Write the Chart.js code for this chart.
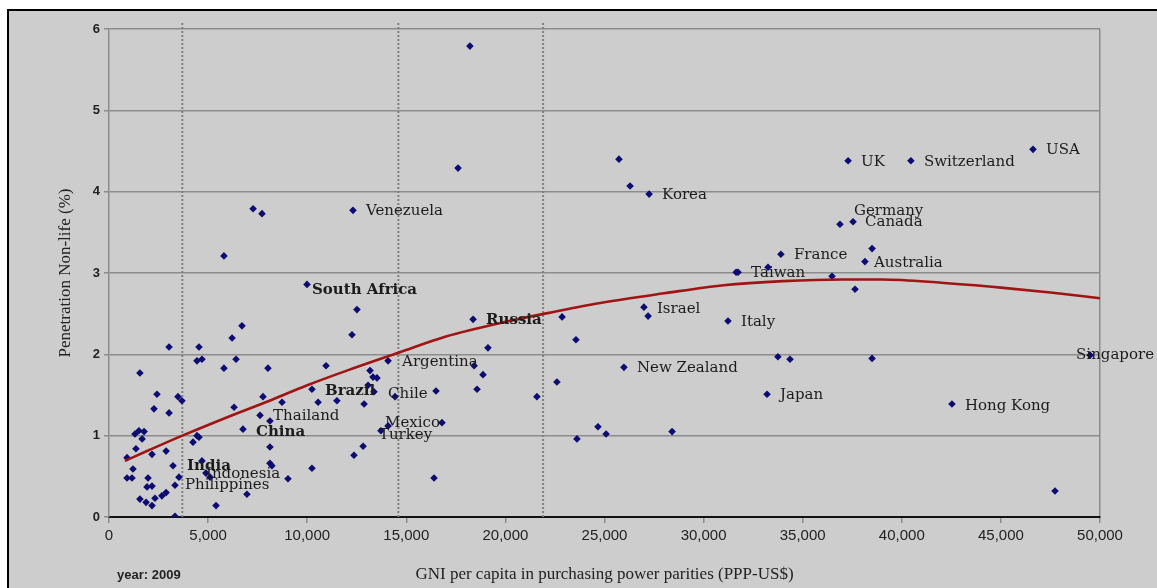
<!DOCTYPE html>
<html lang="en">
    <head>
        <meta charset="UTF-8" />
        <title>Penetration Non-life vs GNI per capita</title>
        <script src="https://cdn.jsdelivr.net/npm/chart.js"></script>
        <style>
            body { margin: 0; background: #fff; width: 1157px; height: 588px; overflow: hidden; position: relative; }
            #marco { position: absolute; left: 7px; top: 9px; width: 1160px; height: 590px; border-left: 2px solid #000; border-top: 2px solid #000; background: #cdcdcd; }
            #grafico { position: absolute; left: 0; top: 0; }
        </style>
    </head>
    <body>
        <div id="marco"></div>
        <canvas id="grafico" width="1157" height="588"></canvas>

        <script>
            // Countries with a name next to the marker
            const labelledNames = ["Venezuela", "South Africa", "Argentina", "India", "Indonesia", "Philippines",
                "China", "Thailand", "Brazil", "Chile", "Russia", "Mexico", "Turkey", "Korea", "Israel",
                "New Zealand", "Italy", "France", "Taiwan", "Japan", "UK", "Switzerland", "USA", "Germany",
                "Canada", "Australia", "Hong Kong", "Singapore"];
            const labelledGni = [12310, 9990, 14080, 3230, 3530, 3330,
                6760, 7620, 10240, 13370, 18370, 14080, 13720, 27250, 26990,
                25980, 31230, 33900, 31640, 33200, 37290, 40460, 46620, 36880,
                37540, 38140, 42530, 49500];
            const labelledPen = [3.77, 2.86, 1.92, 0.63, 0.49, 0.39,
                1.08, 1.25, 1.57, 1.54, 2.43, 1.12, 1.06, 3.97, 2.58,
                1.84, 2.41, 3.23, 3.01, 1.51, 4.38, 4.38, 4.52, 3.60,
                3.63, 3.14, 1.39, 1.99];

            // Other countries (no label)
            const otherGni = [18210, 17610, 7270, 7720, 5800, 12510, 12260, 6710, 6210, 3030,
                4540, 4440, 4690, 6410, 5800, 8020, 10950, 13170, 13320, 13520,
                1560, 2420, 2270, 3030, 3480, 3680, 1310, 1510, 1770, 1670,
                1360, 910, 2170, 2880, 1210, 910, 1160, 1970, 1920, 2170,
                1560, 1870, 2170, 2320, 2670, 2880, 3330, 4240, 4440, 4540,
                4690, 4890, 5100, 6960, 5400, 7770, 8730, 8120, 8120, 8120,
                8220, 9030, 10550, 10240, 13070, 11500, 12870, 14430, 16500, 18420,
                18870, 18570, 19120, 21590, 16800, 12820, 12360, 16400, 25730, 26290,
                27200, 22860, 23560, 22600, 24670, 25080, 23610, 28410, 31740, 33250,
                36480, 33750, 34360, 38500, 37640, 38500, 47730, 6310];
            const otherPen = [5.79, 4.29, 3.79, 3.73, 3.21, 2.55, 2.24, 2.35, 2.20, 2.09,
                2.09, 1.92, 1.94, 1.94, 1.83, 1.83, 1.86, 1.80, 1.72, 1.71,
                1.77, 1.51, 1.33, 1.28, 1.48, 1.43, 1.02, 1.06, 1.05, 0.96,
                0.84, 0.73, 0.77, 0.81, 0.59, 0.48, 0.48, 0.48, 0.37, 0.38,
                0.22, 0.18, 0.14, 0.23, 0.26, 0.30, 0.01, 0.92, 1.00, 0.98,
                0.69, 0.54, 0.49, 0.28, 0.14, 1.48, 1.41, 1.18, 0.86, 0.66,
                0.63, 0.47, 1.41, 0.60, 1.62, 1.43, 1.39, 1.48, 1.55, 1.86,
                1.75, 1.57, 2.08, 1.48, 1.16, 0.87, 0.76, 0.48, 4.40, 4.07,
                2.47, 2.46, 2.18, 1.66, 1.11, 1.02, 0.96, 1.05, 3.01, 3.07,
                2.96, 1.97, 1.94, 3.30, 2.80, 1.95, 0.32, 1.35];

            // Trend curve
            const trendGni = [800, 2000, 3700, 6000, 8000, 10000, 12000, 14600, 17000, 20000,
                22200, 25000, 28000, 31000, 34000, 37000, 39000, 42000, 45000, 47500, 50000];
            const trendPen = [0.69, 0.82, 1.00, 1.23, 1.42, 1.62, 1.80, 2.02, 2.22, 2.40,
                2.51, 2.64, 2.75, 2.85, 2.90, 2.92, 2.92, 2.88, 2.82, 2.76, 2.69];

            // Income group thresholds (dotted verticals)
            const thresholds = [3700, 14600, 21900];

            const xTicks = [0, 5000, 10000, 15000, 20000, 25000, 30000, 35000, 40000, 45000, 50000];

            const bold = ["South Africa", "Russia", "Brazil", "China", "India"];
            const offsets = {
                "South Africa": [5, 6], "Argentina": [14, 1], "Brazil": [13, 2], "Chile": [14, 2],
                "Mexico": [-3, -3], "Turkey": [-2, 4], "China": [13, 3], "India": [14, 0],
                "Indonesia": [27, -3], "Philippines": [10, 0], "Israel": [13, 2], "Taiwan": [15, 1],
                "Germany": [14, -13], "Canada": [12, 0], "Australia": [9, 1], "Singapore": [-14, 0],
                "Hong Kong": [13, 2]
            };

            const etiquetas = {
                id: "etiquetas",
                afterDatasetsDraw(chart) {
                    const ctx = chart.ctx;
                    const meta = chart.getDatasetMeta(1);
                    ctx.save();
                    ctx.fillStyle = "#1c1c1c";
                    ctx.textBaseline = "middle";
                    ctx.textAlign = "left";
                    meta.data.forEach((pt, i) => {
                        const name = labelledNames[i];
                        const off = offsets[name] || [13, 1];
                        ctx.font = (bold.includes(name) ? "bold " : "") + "15px 'DejaVu Serif'";
                        ctx.fillText(name, pt.x + off[0], pt.y + off[1]);
                    });
                    // year note under the axis
                    ctx.font = "bold 13px 'Liberation Sans Narrow', 'Liberation Sans'";
                    ctx.fillStyle = "#222";
                    ctx.fillText("year: 2009", 117, 575);
                    ctx.restore();
                },
            };

            const datasets = [
                {
                    label: "no name",
                    data: otherGni.map((x, i) => ({ x: x, y: otherPen[i] })),
                    backgroundColor: "#0c0c72",
                    borderWidth: 0,
                    pointStyle: "rectRot",
                    pointRadius: 3.8,
                    order: 2,
                },
                {
                    label: "named",
                    data: labelledGni.map((x, i) => ({ x: x, y: labelledPen[i] })),
                    backgroundColor: "#0c0c72",
                    borderWidth: 0,
                    pointStyle: "rectRot",
                    pointRadius: 3.8,
                    order: 2,
                },
                {
                    label: "trend",
                    type: "line",
                    data: trendGni.map((x, i) => ({ x: x, y: trendPen[i] })),
                    borderColor: "#a01414",
                    borderWidth: 2.6,
                    pointRadius: 0,
                    cubicInterpolationMode: "monotone",
                    fill: false,
                    order: 1,
                },
            ];
            thresholds.forEach((t) => {
                datasets.push({
                    label: "threshold",
                    type: "line",
                    data: [{ x: t, y: 0 }, { x: t, y: 6.09 }],
                    borderColor: "#808080",
                    borderWidth: 2,
                    borderDash: [2, 2],
                    pointRadius: 0,
                    clip: false,
                    order: 3,
                });
            });

            const ctx = document.getElementById("grafico").getContext("2d");
            new Chart(ctx, {
                type: "scatter",
                data: { datasets: datasets },
                plugins: [etiquetas],
                options: {
                    responsive: false,
                    animation: false,
                    layout: { padding: { top: 29, right: 57, left: 0, bottom: 0 } },
                    plugins: { legend: { display: false }, tooltip: { enabled: false } },
                    scales: {
                        x: {
                            type: "linear",
                            min: 0,
                            max: 50000,
                            afterFit: (s) => { s.height = 71; },
                            afterBuildTicks: (s) => { s.ticks = xTicks.map((v) => ({ value: v })); },
                            ticks: {
                                callback: (v) => v.toLocaleString("en-US"),
                                color: "#222",
                                font: { family: "'Liberation Sans Narrow', 'Liberation Sans'", size: 15 },
                                padding: 4,
                                maxRotation: 0,
                            },
                            grid: {
                                color: (c) => (c.tick && c.tick.value === 50000 ? "#8c8c8c" : "rgba(0,0,0,0)"),
                                lineWidth: 1.5,
                                tickColor: "#8c8c8c",
                                tickLength: 6,
                            },
                            border: { color: "#111", width: 2 },
                            title: {
                                display: true,
                                text: "GNI per capita in purchasing power parities (PPP-US$)",
                                font: { family: "'Liberation Serif'", size: 17 },
                                color: "#222",
                                padding: { top: 0, bottom: 3 },
                            },
                        },
                        y: {
                            min: 0,
                            max: 6,
                            afterFit: (s) => { s.width = 109; },
                            ticks: {
                                stepSize: 1,
                                color: "#222",
                                font: { family: "'Liberation Sans'", size: 13, weight: "bold" },
                                padding: 4,
                            },
                            grid: {
                                color: "#8c8c8c",
                                lineWidth: 1.5,
                                tickColor: "#8c8c8c",
                                tickLength: 5,
                            },
                            border: { color: "#8c8c8c", width: 1.5 },
                            title: {
                                display: true,
                                text: "Penetration Non-life (%)",
                                font: { family: "'Liberation Serif'", size: 17 },
                                color: "#222",
                                padding: { top: 55, bottom: 0 },
                            },
                        },
                    },
                },
            });
        </script>
    </body>
</html>
